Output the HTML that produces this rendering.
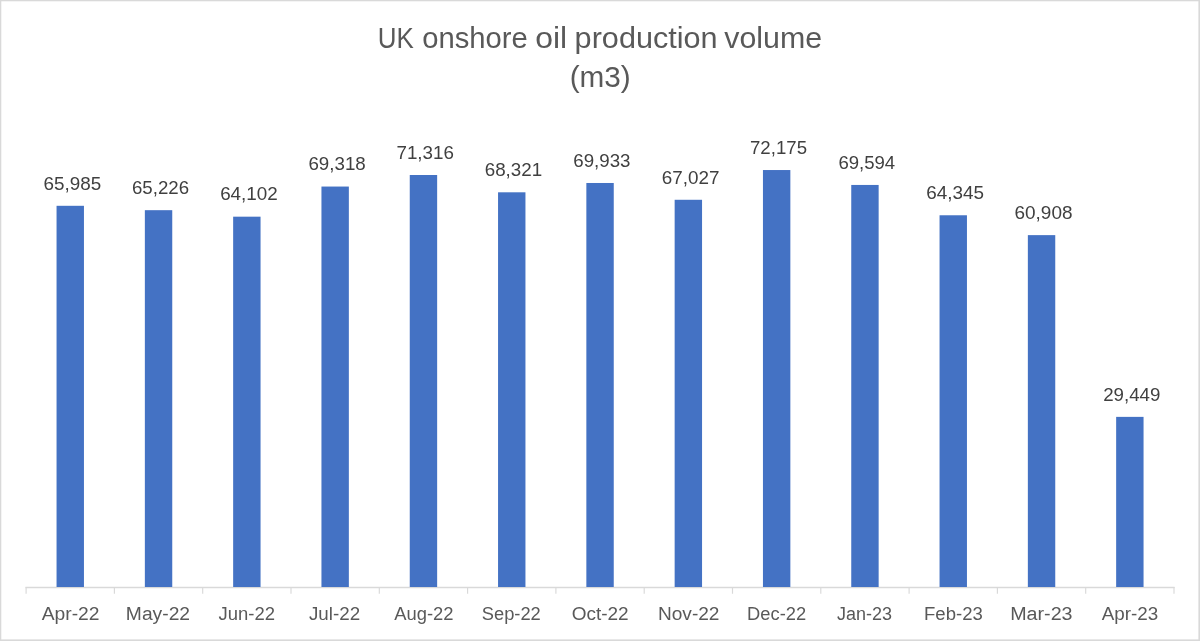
<!DOCTYPE html>
<html lang="en"><head><meta charset="utf-8"><title>UK onshore oil production volume (m3)</title>
<style>
html,body{margin:0;padding:0;background:#fff;}
body{width:1200px;height:641px;overflow:hidden;}
svg{display:block;}
text{font-family:"Liberation Sans",sans-serif;}
.t{font-size:29px;fill:#595959;}
.l{font-size:18.2px;fill:#404040;}
.c{font-size:17.6px;fill:#595959;}
</style></head><body>
<svg width="1200" height="641" viewBox="0 0 1200 641">
<rect x="0" y="0" width="1200" height="641" fill="#ffffff"/>
<g fill="#d9d9d9"><rect x="0" y="0" width="1200" height="1.3"/><rect x="0" y="0" width="1.3" height="641"/><rect x="1198.4" y="0" width="1.6" height="641"/><rect x="0" y="639.4" width="1200" height="1.6"/></g>
<text class="t" y="48.4"><tspan x="377.73" textLength="36.07" lengthAdjust="spacingAndGlyphs">UK</tspan> <tspan x="422.21" textLength="105.65" lengthAdjust="spacingAndGlyphs">onshore</tspan> <tspan x="535.19" textLength="31.96" lengthAdjust="spacingAndGlyphs">oil</tspan> <tspan x="574.64" textLength="143.02" lengthAdjust="spacingAndGlyphs">production</tspan> <tspan x="724.21" textLength="97.91" lengthAdjust="spacingAndGlyphs">volume</tspan></text>
<text class="t" x="569.67" y="87.40" textLength="61.12" lengthAdjust="spacingAndGlyphs">(m3)</text>
<path d="M25.50 587.5 H1174.60" stroke="#d9d9d9" stroke-width="1.3" fill="none"/>
<path d="M26.10 587.0 V593.8 M114.40 587.0 V593.8 M202.70 587.0 V593.8 M291.00 587.0 V593.8 M379.30 587.0 V593.8 M467.60 587.0 V593.8 M555.90 587.0 V593.8 M644.20 587.0 V593.8 M732.50 587.0 V593.8 M820.80 587.0 V593.8 M909.10 587.0 V593.8 M997.40 587.0 V593.8 M1085.70 587.0 V593.8 M1174.00 587.0 V593.8" stroke="#d9d9d9" stroke-width="1.15" fill="none"/>
<rect x="56.55" y="205.80" width="27.4" height="381.20" fill="#4472c4"/>
<rect x="144.85" y="210.18" width="27.4" height="376.82" fill="#4472c4"/>
<rect x="233.15" y="216.68" width="27.4" height="370.32" fill="#4472c4"/>
<rect x="321.45" y="186.55" width="27.4" height="400.45" fill="#4472c4"/>
<rect x="409.75" y="175.00" width="27.4" height="412.00" fill="#4472c4"/>
<rect x="498.05" y="192.30" width="27.4" height="394.70" fill="#4472c4"/>
<rect x="586.35" y="182.99" width="27.4" height="404.01" fill="#4472c4"/>
<rect x="674.65" y="199.78" width="27.4" height="387.22" fill="#4472c4"/>
<rect x="762.95" y="170.04" width="27.4" height="416.96" fill="#4472c4"/>
<rect x="851.25" y="184.95" width="27.4" height="402.05" fill="#4472c4"/>
<rect x="939.55" y="215.27" width="27.4" height="371.73" fill="#4472c4"/>
<rect x="1027.85" y="235.13" width="27.4" height="351.87" fill="#4472c4"/>
<rect x="1116.15" y="416.87" width="27.4" height="170.13" fill="#4472c4"/>
<text class="l" x="43.58" y="189.60" textLength="57.72" lengthAdjust="spacingAndGlyphs">65,985</text>
<text class="l" x="131.96" y="193.98" textLength="57.10" lengthAdjust="spacingAndGlyphs">65,226</text>
<text class="l" x="220.15" y="200.48" textLength="57.62" lengthAdjust="spacingAndGlyphs">64,102</text>
<text class="l" x="308.45" y="170.35" textLength="57.31" lengthAdjust="spacingAndGlyphs">69,318</text>
<text class="l" x="396.44" y="158.80" textLength="57.50" lengthAdjust="spacingAndGlyphs">71,316</text>
<text class="l" x="484.72" y="176.10" textLength="57.48" lengthAdjust="spacingAndGlyphs">68,321</text>
<text class="l" x="573.24" y="166.79" textLength="57.25" lengthAdjust="spacingAndGlyphs">69,933</text>
<text class="l" x="661.72" y="183.58" textLength="57.70" lengthAdjust="spacingAndGlyphs">67,027</text>
<text class="l" x="750.00" y="153.84" textLength="57.02" lengthAdjust="spacingAndGlyphs">72,175</text>
<text class="l" x="838.40" y="168.75" textLength="56.81" lengthAdjust="spacingAndGlyphs">69,594</text>
<text class="l" x="926.25" y="199.07" textLength="57.79" lengthAdjust="spacingAndGlyphs">64,345</text>
<text class="l" x="1014.54" y="218.93" textLength="57.96" lengthAdjust="spacingAndGlyphs">60,908</text>
<text class="l" x="1103.15" y="400.67" textLength="57.19" lengthAdjust="spacingAndGlyphs">29,449</text>
<text class="c" x="41.72" y="619.50" textLength="57.76" lengthAdjust="spacingAndGlyphs">Apr-22</text>
<text class="c" x="125.89" y="619.50" textLength="64.16" lengthAdjust="spacingAndGlyphs">May-22</text>
<text class="c" x="218.47" y="619.50" textLength="56.46" lengthAdjust="spacingAndGlyphs">Jun-22</text>
<text class="c" x="308.97" y="619.50" textLength="51.13" lengthAdjust="spacingAndGlyphs">Jul-22</text>
<text class="c" x="394.28" y="619.50" textLength="59.31" lengthAdjust="spacingAndGlyphs">Aug-22</text>
<text class="c" x="481.81" y="619.50" textLength="58.98" lengthAdjust="spacingAndGlyphs">Sep-22</text>
<text class="c" x="571.67" y="619.50" textLength="57.01" lengthAdjust="spacingAndGlyphs">Oct-22</text>
<text class="c" x="657.94" y="619.50" textLength="61.54" lengthAdjust="spacingAndGlyphs">Nov-22</text>
<text class="c" x="747.11" y="619.50" textLength="58.98" lengthAdjust="spacingAndGlyphs">Dec-22</text>
<text class="c" x="836.90" y="619.50" textLength="55.03" lengthAdjust="spacingAndGlyphs">Jan-23</text>
<text class="c" x="924.03" y="619.50" textLength="58.77" lengthAdjust="spacingAndGlyphs">Feb-23</text>
<text class="c" x="1010.23" y="619.50" textLength="62.36" lengthAdjust="spacingAndGlyphs">Mar-23</text>
<text class="c" x="1101.83" y="619.50" textLength="56.46" lengthAdjust="spacingAndGlyphs">Apr-23</text>
</svg></body></html>
